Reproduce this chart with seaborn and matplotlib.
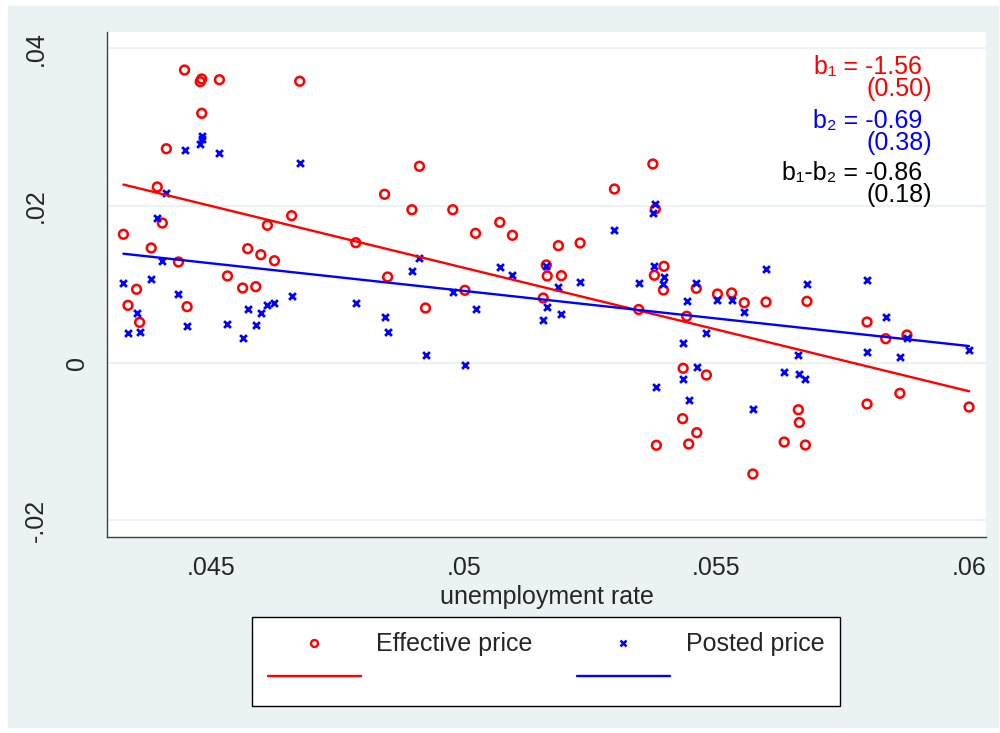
import numpy as np
import pandas as pd
import seaborn as sns
import matplotlib.pyplot as plt
from matplotlib.lines import Line2D
from matplotlib.patches import Rectangle
import matplotlib.transforms as mtransforms

# unemployment rate (x) and the two price series (y)
unemp = [0.04326, 0.04335, 0.04352, 0.04358, 0.04381, 0.04393, 0.04403, 0.04411,
         0.04435, 0.04447, 0.04452, 0.04478, 0.04481, 0.04481, 0.04516, 0.04532,
         0.04562, 0.04572, 0.04588, 0.04598, 0.04611, 0.04625, 0.04659, 0.04675,
         0.04786, 0.04843, 0.04849, 0.04897, 0.04912, 0.04924, 0.04978, 0.05002,
         0.05023, 0.05071, 0.05096, 0.05157, 0.05163, 0.05165, 0.05187, 0.05193,
         0.05230, 0.05298, 0.05346, 0.05374, 0.05377, 0.05379, 0.05381, 0.05395,
         0.05396, 0.05433, 0.05434, 0.05441, 0.05445, 0.05460, 0.05461, 0.05480,
         0.05502, 0.05530, 0.05555, 0.05572, 0.05598, 0.05634, 0.05662, 0.05664,
         0.05676, 0.05679, 0.05798, 0.05798, 0.05835, 0.05863, 0.05877, 0.06000]

effective = [0.01637, 0.00734, 0.00938, 0.00518, 0.01463, 0.02238, 0.01780, 0.02724,
             0.01285, 0.03724, 0.00717, 0.03576, 0.03610, 0.03174, 0.03601, 0.01107,
             0.00954, 0.01454, 0.00971, 0.01377, 0.01751, 0.01301, 0.01873, 0.03581,
             0.01530, 0.02145, 0.01094, 0.01949, 0.02501, 0.00700, 0.01949, 0.00925,
             0.01649, 0.01789, 0.01624, 0.00827, 0.01247, 0.01107, 0.01492, 0.01111,
             0.01526, 0.02212, 0.00681, 0.02530, 0.01116, 0.01958, -0.01044, 0.00929,
             0.01230, -0.00706, -0.00066, 0.00595, -0.01028, 0.00950, -0.00884, -0.00151,
             0.00878, 0.00891, 0.00767, -0.01409, 0.00776, -0.01003, -0.00593, -0.00755,
             -0.01041, 0.00785, 0.00522, -0.00520, 0.00310, -0.00384, 0.00357, -0.00558]

posted = [0.01014, 0.00379, 0.00633, 0.00395, 0.01065, 0.01840, 0.01297, 0.02158,
          0.00874, 0.02708, 0.00468, 0.02788, 0.02848, 0.02886, 0.02666, 0.00501,
          0.00323, 0.00687, 0.00480, 0.00640, 0.00738, 0.00764, 0.00853, 0.02543,
          0.00767, 0.00582, 0.00391, 0.01174, 0.01332, 0.00103, 0.00903, -0.00024,
          0.00684, 0.01217, 0.01123, 0.00548, 0.01234, 0.00713, 0.00967, 0.00630,
          0.01034, 0.01695, 0.01014, 0.01911, 0.01238, 0.02018, -0.00304, 0.01005,
          0.01098, -0.00206, 0.00259, 0.00793, -0.00469, 0.01024, -0.00050, 0.00382,
          0.00802, 0.00802, 0.00649, -0.00583, 0.01192, -0.00113, 0.00103, -0.00136,
          -0.00198, 0.01005, 0.01060, 0.00141, 0.00590, 0.00078, 0.00315, 0.00166]

xtick_vals = [0.045, 0.05, 0.055, 0.06]
xtick_labels = ['.045', '.05', '.055', '.06']
ytick_vals = [-0.02, 0, 0.02, 0.04]
ytick_labels = ['-.02', '0', '.02', '.04']

coef_text = ['b\u2081 = -1.56', '(0.50)', 'b\u2082 = -0.69', '(0.38)', 'b\u2081-b\u2082 = -0.86', '(0.18)']
coef_colors = ['red', 'red', 'blue', 'blue', 'black', 'black']

df = pd.DataFrame({'unemp': unemp, 'effective': effective, 'posted': posted})

bg = '#EAF2F3'
sns.set_style('white')
plt.rcParams['font.family'] = ['Liberation Sans', 'DejaVu Sans']

fig = plt.figure(figsize=(10, 7.33), dpi=100)
fig.patch.set_facecolor('white')
fig.patches.append(Rectangle((0.008, 1 - 727 / 733), 0.99, (727 - 6) / 733,
                             transform=fig.transFigure, color=bg, zorder=-10))
ax = fig.add_axes([0.1073, 1 - 537.3 / 733, 0.8787, 505 / 733])
ax.set_zorder(1)
ax.set_facecolor('white')

sns.scatterplot(data=df, x='unemp', y='effective', marker='o', s=40,
                facecolor='none', edgecolor='red', linewidth=1.8, ax=ax, zorder=3)
sns.scatterplot(data=df, x='unemp', y='posted', marker='x', s=24,
                color='blue', linewidth=2, ax=ax, zorder=3)
sns.regplot(data=df, x='unemp', y='effective', scatter=False, ci=None,
            color='red', line_kws={'lw': 1.7, 'zorder': 4}, ax=ax)
sns.regplot(data=df, x='unemp', y='posted', scatter=False, ci=None,
            color='blue', line_kws={'lw': 1.7, 'zorder': 4}, ax=ax)

ax.set_xlim(0.042941, 0.060335)
ax.set_ylim(-0.022135, 0.042033)
ax.set_xticks(xtick_vals)
ax.set_xticklabels(xtick_labels, fontsize=18)
ax.set_yticks(ytick_vals)
ax.tick_params(axis='y', labelleft=False)
ax.tick_params(axis='both', direction='out', length=6.8, width=1, color='#404040')
ax.tick_params(axis='x', pad=7)
ax.yaxis.grid(True, color=bg, lw=1.5)
ax.xaxis.grid(False)
ax.set_axisbelow(True)
for s in ['top', 'right']:
    ax.spines[s].set_visible(False)
for s in ['left', 'bottom']:
    ax.spines[s].set_color('#404040')
    ax.spines[s].set_linewidth(1)

ax.set_xlabel('unemployment rate', fontsize=18, labelpad=3)
ax.set_ylabel('')

# rotated y labels, placed like the Stata output
trans = mtransforms.blended_transform_factory(fig.transFigure, ax.transData)
for v, lab in zip(ytick_vals, ytick_labels):
    xpos = 77 if lab == '0' else 36
    ax.text(xpos / 1000, v, lab, transform=trans, rotation=90, ha='center',
            va='center', fontsize=18, clip_on=False)

# coefficient block in the top right
ys = [67, 89, 121, 143, 173, 195]
for i, (t, c) in enumerate(zip(coef_text, coef_colors)):
    xr = 922 if i % 2 == 0 else 932
    ax.text(xr / 1000, 1 - ys[i] / 733, t, color=c, fontsize=18, ha='right',
            va='center', transform=fig.transFigure)

handles = [Line2D([], [], ls='none', marker='o', mfc='none', mec='red', ms=5, mew=1.7),
           Line2D([], [], color='red', lw=1.7),
           Line2D([], [], ls='none', marker='x', color='blue', ms=4.5, mew=1.8),
           Line2D([], [], color='blue', lw=1.7)]
labels = ['Effective price', ' ', 'Posted price', ' ']
leg = fig.legend(handles, labels, ncol=2, loc='upper left',
                 bbox_to_anchor=(0.252, 1 - 617 / 733), fontsize=18,
                 handlelength=3.72, handletextpad=0.64, columnspacing=1.76,
                 labelspacing=0.38, borderpad=0.62, borderaxespad=0,
                 fancybox=False, framealpha=1, edgecolor='black')
leg.get_frame().set_linewidth(1)

plt.savefig('out.png', dpi=100)
